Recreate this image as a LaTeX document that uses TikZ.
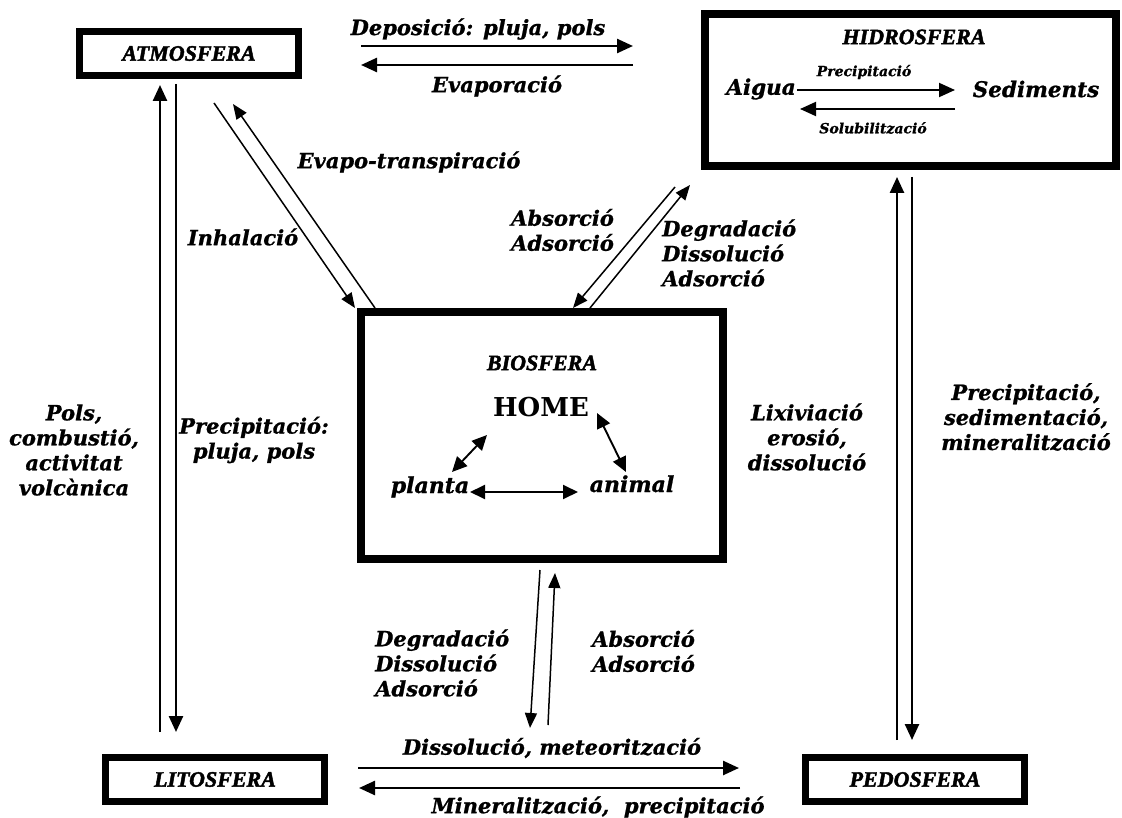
\documentclass[tikz,border=0pt]{standalone}
\usepackage{fontspec}
\setmainfont{DejaVu Serif}[BoldItalicFeatures={FakeBold=1}]
\newfontfamily\boxfont{Liberation Serif}[BoldItalicFeatures={FakeBold=2}]
\usetikzlibrary{arrows.meta}
\begin{document}
\begin{tikzpicture}[x=1pt,y=-1pt,
  lbl/.style={font=\bfseries\itshape\fontsize{21}{25}\selectfont, inner sep=0pt, align=center},
  lbll/.style={lbl, align=left, anchor=west},
  small/.style={font=\bfseries\itshape\fontsize{14}{16}\selectfont, inner sep=0pt},
  mid/.style={font=\bfseries\itshape\fontsize{21.5}{24}\selectfont, inner sep=0pt},
  sphere/.style={draw, line width=7pt, minimum width=219pt, minimum height=44pt, inner sep=0pt,
     font=\boxfont\bfseries\itshape\fontsize{22}{24}\selectfont},
  bigbox/.style={draw, line width=8pt, inner sep=0pt},
  boxlabel/.style={font=\boxfont\bfseries\itshape\fontsize{22}{24}\selectfont, inner sep=0pt},
  arr/.style={-{Triangle[length=16pt,width=14pt]}, line width=2.5pt},
  arrthin/.style={-{Triangle[length=15pt,width=12pt]}, line width=1.5pt},
  darr/.style={{Triangle[length=15pt,width=14pt]}-{Triangle[length=15pt,width=14pt]}, line width=1.9pt}
]
\useasboundingbox (0,0) rectangle (1122,818);

% boxes
\node[sphere] (atm) at (189,53.5) {ATMOSFERA};
\node[sphere] (lit) at (215,779.5) {LITOSFERA};
\node[sphere] (ped) at (915,779.5) {PEDOSFERA};
\node[bigbox, minimum width=411pt, minimum height=152pt] (hid) at (910.5,90) {};
\node[bigbox, minimum width=362pt, minimum height=247pt] (bio) at (542,435.5) {};

% hidrosfera content
\node[boxlabel] (hidl) at (914,37) {HIDROSFERA};
\node[mid] (aig) at (761,89) {Aigua};
\node[mid] (sed) at (1036,89) {Sediments};
\node[small] (prh) at (864,72) {Precipitació};
\node[small] (sol) at (873,128) {Solubilització};
\coordinate (h1) at (797,90); \coordinate (h2) at (955,90);
\coordinate (h3) at (955,109); \coordinate (h4) at (800,109);
\draw[arr, line width=1.9pt] (h1) -- (h2);
\draw[arr, line width=1.9pt] (h3) -- (h4);

% biosfera content
\node[boxlabel] (biol) at (542,363) {BIOSFERA};
\node[font=\bfseries\fontsize{26}{30}\selectfont, inner sep=0pt] (home) at (541,407) {HOME};
\node[font=\bfseries\itshape\fontsize{22}{24}\selectfont, inner sep=0pt, anchor=base] (pla) at (430,493) {planta};
\node[font=\bfseries\itshape\fontsize{22}{24}\selectfont, inner sep=0pt, anchor=base] (ani) at (632,492) {animal};
\coordinate (b1) at (470,492); \coordinate (b2) at (578,492);
\coordinate (b3) at (452,472); \coordinate (b4) at (487,435);
\coordinate (b5) at (597,413); \coordinate (b6) at (626,472);
\draw[darr] (b1) -- (b2);
\draw[darr] (b3) -- (b4);
\draw[darr] (b5) -- (b6);

% atmosfera <-> hidrosfera
\coordinate (t1) at (361,46); \coordinate (t2) at (633,46);
\coordinate (t3) at (633,65); \coordinate (t4) at (361,65);
\draw[arr] (t1) -- (t2);
\draw[arr] (t3) -- (t4);
\node[lbl] (dep) at (478,29) {Deposició: pluja, pols};
\node[lbl] (eva) at (497,86) {Evaporació};

% atmosfera <-> litosfera
\coordinate (v1) at (160,732); \coordinate (v2) at (160,85);
\coordinate (v3) at (176,84); \coordinate (v4) at (176,732);
\draw[arr] (v1) -- (v2);
\draw[arr] (v3) -- (v4);
\node[lbl] (pols) at (74,450) {Pols,\\combustió,\\activitat\\volcànica};
\node[lbl] (prl) at (254,440) {Precipitació:\\pluja, pols};

% atmosfera <-> biosfera
\coordinate (d1) at (214,103); \coordinate (d2) at (355,308);
\coordinate (d3) at (375,308); \coordinate (d4) at (233,104);
\draw[arrthin] (d1) -- (d2);
\draw[arrthin] (d3) -- (d4);
\node[lbl] (evt) at (409,162) {Evapo-transpiració};
\node[lbl] (inh) at (243,237) {Inhalació};

% biosfera <-> hidrosfera
\coordinate (e1) at (675,187); \coordinate (e2) at (573,308);
\coordinate (e3) at (590,308); \coordinate (e4) at (690,185);
\draw[arrthin] (e1) -- (e2);
\draw[arrthin] (e3) -- (e4);
\node[lbll] (abs1) at (511,230) {Absorció\\Adsorció};
\node[lbll] (deg1) at (662,253) {Degradació\\Dissolució\\Adsorció};

% hidrosfera <-> pedosfera
\coordinate (p1) at (897,740); \coordinate (p2) at (897,177);
\coordinate (p3) at (912,177); \coordinate (p4) at (912,740);
\draw[arr] (p1) -- (p2);
\draw[arr] (p3) -- (p4);
\node[lbl] (lix) at (807,437) {Lixiviació\\erosió,\\dissolució};
\node[lbl] (prs) at (1026,417) {Precipitació,\\sedimentació,\\mineralització};

% biosfera <-> litosfera
\coordinate (l1) at (540,570); \coordinate (l2) at (530,728);
\coordinate (l3) at (548,725); \coordinate (l4) at (555,573);
\draw[arrthin] (l1) -- (l2);
\draw[arrthin] (l3) -- (l4);
\node[lbll] (deg2) at (375,663) {Degradació\\Dissolució\\Adsorció};
\node[lbll] (abs2) at (592,651) {Absorció\\Adsorció};

% litosfera <-> pedosfera
\coordinate (r1) at (358,768); \coordinate (r2) at (739,768);
\coordinate (r3) at (740,788); \coordinate (r4) at (359,788);
\draw[arr] (r1) -- (r2);
\draw[arr] (r3) -- (r4);
\node[lbl] (dis) at (552,748) {Dissolució, meteorització};
\node[lbl] (min) at (598,807) {Mineralització,\ \ precipitació};
\end{tikzpicture}
\end{document}
